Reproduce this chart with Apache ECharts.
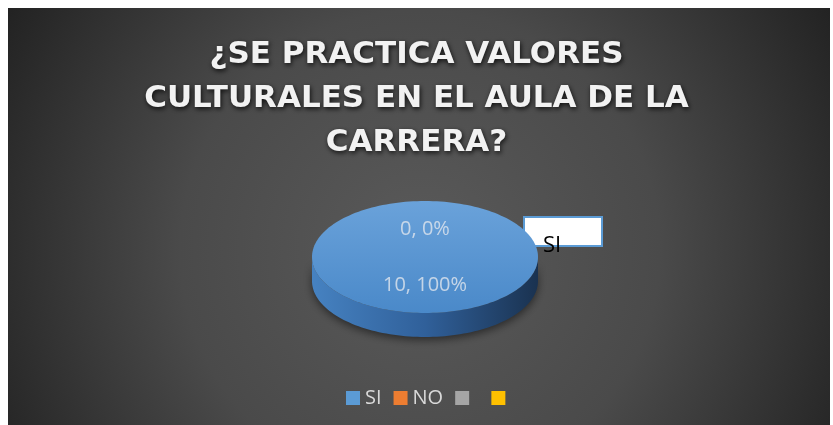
<!DOCTYPE html>
<html>
<head>
<meta charset="utf-8">
<script src="https://cdn.jsdelivr.net/npm/echarts@6/dist/echarts.min.js"></script>
<style>
  html, body { margin: 0; padding: 0; background: #fff; }
  #main { width: 833px; height: 425px; }
</style>
</head>
<body>
<div id="main"></div>
<script>
// datos del grafico
var categories = ['SI', 'NO', ' ', '  ']
var values = [10, 0, null, null]
var colors = ['#5b9bd5', '#ed7d31', '#a5a5a5', '#ffc000']
var titleLines = ['¿SE PRACTICA VALORES', 'CULTURALES EN EL AULA DE LA', 'CARRERA?']

// geometria del pastel 3D (elipse)
var CX = 425, CY = 257, RX = 113, RY = 56, DEPTH = 24

function total () {
  var t = 0
  values.forEach(function (v) { if (v != null) t += v })
  return t
}

function arcPoints (a0, a1, dy) {
  var pts = []
  var n = Math.max(2, Math.ceil(Math.abs(a1 - a0) / (Math.PI / 90)))
  for (var k = 0; k <= n; k++) {
    var a = a0 + (a1 - a0) * k / n
    pts.push([CX + RX * Math.cos(a), CY + dy + RY * Math.sin(a)])
  }
  return pts
}

function renderSlice (params, api) {
  var i = params.seriesIndex
  var v = values[i]
  if (v == null) return { type: 'group', children: [] }
  var t = total()
  var cum = 0
  for (var j = 0; j < i; j++) if (values[j] != null) cum += values[j]
  var a0 = -Math.PI / 2 + 2 * Math.PI * cum / t
  var a1 = a0 + 2 * Math.PI * api.value(0) / t
  var children = []

  // lado visible (frente)
  ;[[0, Math.PI], [2 * Math.PI, 3 * Math.PI], [-2 * Math.PI, -Math.PI]].forEach(function (r) {
    var s = Math.max(a0, r[0]), e = Math.min(a1, r[1])
    if (e > s) {
      var top = arcPoints(s, e, 0)
      var bot = arcPoints(s, e, DEPTH).reverse()
      children.push({
        type: 'polygon',
        shape: { points: top.concat(bot) },
        style: {
          fill: {
            type: 'linear', x: CX - RX, y: 0, x2: CX + RX, y2: 0, global: true,
            colorStops: [
              { offset: 0, color: '#4682c1' },
              { offset: 0.5, color: '#30609a' },
              { offset: 1, color: '#1a3250' }
            ]
          },
          shadowBlur: 8,
          shadowColor: 'rgba(0,0,0,0.5)',
          shadowOffsetY: 3
        }
      })
    }
  })

  // cara superior
  if (a1 > a0) {
    var pts = arcPoints(a0, a1, 0)
    if (a1 - a0 < 2 * Math.PI - 1e-6) pts.unshift([CX, CY])
    children.push({
      type: 'polygon',
      shape: { points: pts },
      style: {
        fill: {
          type: 'linear', x: 0, y: CY - RY, x2: 0, y2: CY + RY, global: true,
          colorStops: [
            { offset: 0, color: '#6aa2da' },
            { offset: 1, color: '#4a89c9' }
          ]
        }
      }
    })
  }

  // etiqueta
  var mid = (a0 + a1) / 2
  var pct = Math.round(api.value(0) / t * 100)
  children.push({
    type: 'text',
    style: {
      text: api.value(0) + ', ' + pct + '%',
      x: CX + RX * 0.5 * Math.cos(mid),
      y: CY + RY * 0.5 * Math.sin(mid),
      align: 'center',
      verticalAlign: 'middle',
      fill: 'rgba(225,230,238,0.8)',
      font: '20px "Open Sans"'
    }
  })
  return { type: 'group', children: children }
}

var chart = echarts.init(document.getElementById('main'))
chart.setOption({
  backgroundColor: '#ffffff',
  animation: false,
  title: {
    text: titleLines.join('\n'),
    left: 'center',
    top: 28,
    textStyle: {
      color: '#f2f2f2',
      fontFamily: 'DejaVu Sans',
      fontWeight: 'bold',
      fontSize: 31,
      lineHeight: 44,
      textShadowColor: 'rgba(0,0,0,0.8)',
      textShadowBlur: 5,
      textShadowOffsetX: 1,
      textShadowOffsetY: 2
    }
  },
  legend: {
    data: categories,
    left: 341,
    top: 383,
    icon: 'rect',
    itemWidth: 14,
    itemHeight: 14,
    itemGap: 12,
    textStyle: { color: '#d9d9d9', fontSize: 20, fontFamily: 'Open Sans' }
  },
  graphic: [{
    type: 'rect',
    z: -1,
    shape: { x: 8, y: 8, width: 822, height: 420 },
    style: {
      fill: {
        type: 'radial', x: 420, y: 250, r: 480, global: true,
        colorStops: [
          { offset: 0, color: '#5a5a5a' },
          { offset: 0.5, color: '#4a4a4a' },
          { offset: 1, color: '#222222' }
        ]
      }
    }
  }, {
    type: 'text',
    left: 8,
    top: -17,
    style: { text: 'TABLA', fill: '#000', font: 'bold 22px "Liberation Sans"' }
  }, {
    type: 'group',
    left: 523,
    top: 216,
    z: 10,
    children: [{
      type: 'rect',
      shape: { x: 0, y: 0, width: 78, height: 29 },
      style: { fill: '#ffffff', stroke: '#5b9bd5', lineWidth: 2 }
    }, {
      type: 'text',
      style: { text: 'SI', x: 19, y: 29, verticalAlign: 'middle', fill: '#000', font: '22px "Open Sans"' }
    }]
  }],
  series: categories.map(function (name, i) {
    return {
      name: name,
      type: 'custom',
      coordinateSystem: 'none',
      itemStyle: { color: colors[i] },
      renderItem: renderSlice,
      data: [values[i] == null ? 0 : values[i]]
    }
  })
})
</script>
</body>
</html>
